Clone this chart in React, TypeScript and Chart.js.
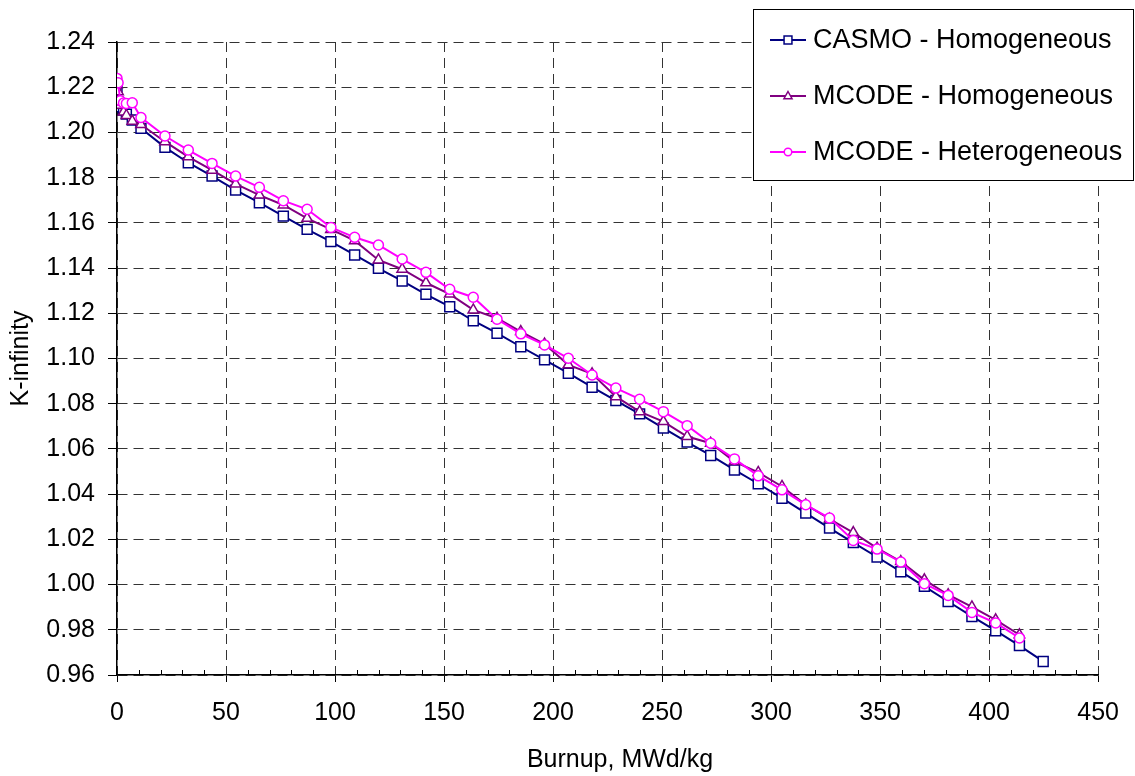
import React, { useEffect, useRef } from "react";
import { Chart, registerables } from "chart.js";

Chart.register(...registerables);

// Burnup, MWd/kg
const burnup = [
  0, 0.5, 1.5, 3, 4.3, 7, 11, 22, 32.7, 43.6, 54.4, 65.3, 76.3, 87.2, 98.1, 109,
  119.9, 130.8, 141.7, 152.6, 163.4, 174.3, 185.2, 196.1, 207, 217.9, 228.8,
  239.7, 250.6, 261.5, 272.3, 283.2, 294.1, 305, 315.9, 326.8, 337.7, 348.6,
  359.5, 370.3, 381.2, 392.1, 403, 413.9, 424.8,
];

const casmoHomogeneous = [
  1.2195, 1.2135, 1.2113, 1.2099, 1.2081, 1.2055, 1.2018, 1.1934, 1.1866,
  1.1807, 1.1745, 1.1689, 1.163, 1.1571, 1.1517, 1.1458, 1.1399, 1.1343,
  1.1284, 1.1229, 1.1167, 1.1112, 1.1052, 1.0994, 1.0935, 1.0873, 1.0814,
  1.0755, 1.0692, 1.063, 1.0571, 1.0507, 1.0446, 1.0382, 1.0316, 1.025,
  1.0186, 1.0122, 1.0057, 0.9992, 0.9925, 0.9859, 0.9796, 0.973, 0.966,
];

const mcodeHomogeneous = [
  1.221, 1.218, 1.212, 1.209, 1.2075, 1.205, 1.2035, 1.1959, 1.1892, 1.1833,
  1.1772, 1.1723, 1.1679, 1.162, 1.1571, 1.1521, 1.1436, 1.1395, 1.1335,
  1.1285, 1.1215, 1.1178, 1.1119, 1.1064, 1.0972, 1.0932, 1.0831, 1.0765,
  1.0721, 1.0655, 1.0625, 1.0544, 1.0496, 1.0434, 1.0353, 1.029, 1.023,
  1.0161, 1.0102, 1.0021, 0.9955, 0.9901, 0.9844, 0.9778,
];

const mcodeHeterogeneous = [
  1.2239, 1.222, 1.214, 1.213, 1.2128, 1.2131, 1.2066, 1.1984, 1.1922, 1.1863,
  1.1807, 1.1757, 1.1698, 1.166, 1.158, 1.1536, 1.1502, 1.144, 1.1381, 1.1306,
  1.1271, 1.1174, 1.1109, 1.106, 1.1001, 1.0927, 1.0869, 1.082, 1.0765,
  1.0703, 1.0625, 1.0556, 1.0481, 1.0419, 1.0353, 1.0294, 1.0195, 1.0157,
  1.01, 1.0004, 0.9952, 0.9877, 0.983, 0.9764,
];

const seriesLabels = [
  "CASMO - Homogeneous",
  "MCODE - Homogeneous",
  "MCODE - Heterogeneous",
];
const seriesColors = ["#000080", "#800080", "#FF00FF"];
const seriesMarkers = ["rect", "triangle", "circle"];
const xTitle = "Burnup, MWd/kg";
const yTitle = "K-infinity";

const FONT = "'Liberation Sans', Arial, Helvetica, sans-serif";

const toPoints = (ys: number[]) => ys.map((y, i) => ({ x: burnup[i], y }));

const markerRadius: Record<string, number> = { rect: 7, triangle: 6, circle: 5 };

const decorPlugin = {
  id: "decor",
  afterDraw(chart: any) {
    const { ctx, chartArea, scales } = chart;
    const xs = scales.x;
    ctx.save();
    // minor ticks on x axis (inside)
    ctx.strokeStyle = "#000";
    ctx.lineWidth = 1;
    for (let v = 10; v < 450; v += 10) {
      if (v % 50 === 0) continue;
      const px = Math.round(xs.getPixelForValue(v)) + 0.5;
      ctx.beginPath();
      ctx.moveTo(px, chartArea.bottom);
      ctx.lineTo(px, chartArea.bottom - 5);
      ctx.stroke();
    }
    // axis titles
    ctx.fillStyle = "#000";
    ctx.font = `25px ${FONT}`;
    ctx.textAlign = "center";
    ctx.textBaseline = "alphabetic";
    ctx.fillText(xTitle, 620, 767);
    ctx.save();
    ctx.translate(28, (chartArea.top + chartArea.bottom) / 2);
    ctx.rotate(-Math.PI / 2);
    ctx.fillText(yTitle, 0, 0);
    ctx.restore();

    // legend
    const lx = 753.5, ly = 9.5, lw = 380, lh = 171;
    ctx.fillStyle = "#fff";
    ctx.fillRect(lx, ly, lw, lh);
    ctx.strokeStyle = "#000";
    ctx.lineWidth = 1;
    ctx.strokeRect(lx, ly, lw, lh);
    const rows = [40, 96, 152];
    seriesLabels.forEach((label, i) => {
      const y = rows[i];
      ctx.strokeStyle = seriesColors[i];
      ctx.lineWidth = 2;
      ctx.beginPath();
      ctx.moveTo(770, y);
      ctx.lineTo(806, y);
      ctx.stroke();
      ctx.fillStyle = "#fff";
      ctx.lineWidth = 1.5;
      const mr = markerRadius[seriesMarkers[i]] * 0.75;
      ctx.beginPath();
      if (seriesMarkers[i] === "rect") {
        const s = mr * 0.75;
        ctx.rect(788 - s, y - s, 2 * s, 2 * s);
      } else if (seriesMarkers[i] === "triangle") {
        const r = mr;
        ctx.moveTo(788, y - r);
        ctx.lineTo(788 + r * 0.9, y + r * 0.6);
        ctx.lineTo(788 - r * 0.9, y + r * 0.6);
        ctx.closePath();
      } else {
        ctx.arc(788, y, mr, 0, Math.PI * 2);
      }
      ctx.fill();
      ctx.stroke();
      ctx.fillStyle = "#000";
      ctx.font = `27px ${FONT}`;
      ctx.textAlign = "left";
      ctx.textBaseline = "middle";
      ctx.fillText(label, 813, y + 1);
    });
    ctx.restore();
  },
};

export default function App() {
  const ref = useRef<HTMLCanvasElement | null>(null);

  useEffect(() => {
    if (!ref.current) return;
    const seriesData = [casmoHomogeneous, mcodeHomogeneous, mcodeHeterogeneous];
    const chart = new Chart(ref.current, {
      type: "line",
      data: {
        datasets: seriesData.map((ys, i) => ({
          label: seriesLabels[i],
          data: toPoints(ys),
          borderColor: seriesColors[i],
          borderWidth: 2,
          pointStyle: seriesMarkers[i] as any,
          pointRadius: markerRadius[seriesMarkers[i]],
          pointBorderColor: seriesColors[i],
          pointBackgroundColor: "#ffffff",
          pointBorderWidth: 1.5,
          tension: 0,
          fill: false,
          order: 3 - i,
        })),
      },
      options: {
        responsive: false,
        devicePixelRatio: 1,
        animation: false,
        layout: { padding: { top: 42, right: 36, left: 0, bottom: 0 } },
        plugins: {
          legend: { display: false },
          tooltip: { enabled: false },
          title: { display: false },
        },
        scales: {
          x: {
            type: "linear",
            min: 0,
            max: 450,
            afterFit: (s: any) => {
              s.height = 101;
            },
            ticks: {
              stepSize: 50,
              color: "#000",
              padding: 16,
              maxRotation: 0,
              font: { family: FONT, size: 25 },
            },
            grid: {
              color: "#333",
              lineWidth: 1,
              drawTicks: true,
              tickLength: 7,
              tickColor: "#000",
              tickWidth: 1,
              tickBorderDash: [],
            },
            border: { display: true, color: "#000", width: 1.5, dash: [10, 6] },
            title: { display: false },
          },
          y: {
            type: "linear",
            min: 0.96,
            max: 1.24,
            afterFit: (s: any) => {
              s.width = 117;
            },
            ticks: {
              stepSize: 0.02,
              color: "#000",
              padding: 13,
              font: { family: FONT, size: 25 },
              callback: (v: any) => Number(v).toFixed(2),
            },
            grid: {
              color: "#333",
              lineWidth: 1,
              drawTicks: true,
              tickLength: 9,
              tickColor: "#000",
              tickWidth: 1,
              tickBorderDash: [],
            },
            border: { display: true, color: "#000", width: 1.5, dash: [10, 6] },
            title: { display: false },
          },
        },
      },
      plugins: [decorPlugin],
    });
    return () => chart.destroy();
  }, []);

  return (
    <div style={{ position: "absolute", left: 0, top: 0, width: 1135, height: 776, background: "#fff" }}>
      <canvas ref={ref} width={1135} height={776} style={{ display: "block" }} />
    </div>
  );
}
